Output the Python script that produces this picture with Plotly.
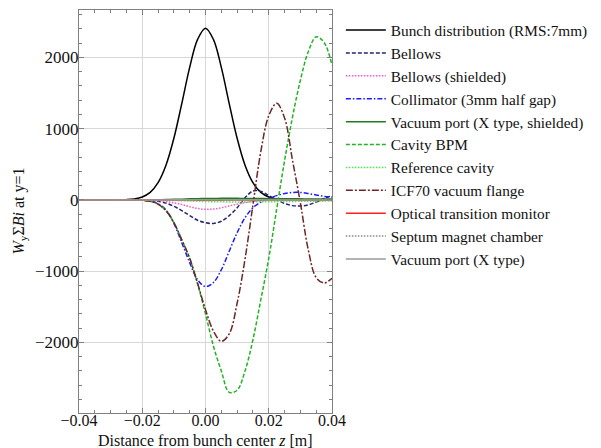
import plotly.graph_objects as go

z = [-0.04, -0.0375, -0.035, -0.0325, -0.03, -0.0275, -0.025, -0.0225, -0.02,
     -0.0175, -0.015, -0.0125, -0.01, -0.0075, -0.005, -0.0025, 0.0,
     0.0025, 0.005, 0.0075, 0.01, 0.0125, 0.015, 0.0175, 0.02,
     0.0225, 0.025, 0.0275, 0.03, 0.0325, 0.035, 0.0375, 0.04]

bunch = [0, 0, 0, 0, 0, 1, 4, 14, 41, 105, 242, 487, 865, 1352, 1860, 2252, 2410,
         2252, 1860, 1352, 865, 487, 242, 105, 41, 14, 4, 1, 0, 0, 0, 0, 0]
bellows = [0, 0, 0, 0, 0, 0, 0, 0, 0, -5, -20, -45, -90, -150, -220, -285, -320,
           -330, -300, -220, -110, 30, 125, 120, 60, 5, -50, -80, -85, -70, -30, 20, 60]
bellows_sh = [0, 0, 0, 0, 0, 0, 0, 0, 0, -3, -10, -22, -40, -65, -95, -120, -132,
              -128, -110, -85, -60, -38, -20, -8, 0, 5, 8, 8, 7, 5, 3, 2, 1]
collimator = [0, 0, 0, 0, 0, 0, 0, 0, 0, -15, -55, -140, -330, -600, -880, -1120, -1215,
              -1160, -980, -720, -460, -250, -110, -30, 20, 60, 90, 105, 105, 90, 70, 50, 40]
vport_sh = [0, 0, 0, 0, 0, 0, 0, 0, 0, 1, 3, 5, 8, 11, 15, 18, 20,
            21, 22, 22, 22, 21, 20, 19, 18, 17, 16, 15, 15, 14, 14, 14, 13]
cavity_bpm = [0, 0, 0, 0, 0, 0, 0, 0, -5, -20, -60, -150, -320, -560, -820, -1180, -1600,
              -2050, -2400, -2700, -2670, -2400, -1960, -1400, -820, -130, 550, 1160, 1680, 2080, 2290, 2210, 1890]
ref_cavity = [0, 0, 0, 0, 0, 0, 0, 0, 0, -1, -3, -5, -8, -11, -15, -19, -22,
              -25, -27, -28, -28, -28, -27, -26, -25, -24, -22, -21, -20, -19, -18, -17, -16]
icf70 = [0, 0, 0, 0, 0, 0, 0, 0, -5, -20, -60, -150, -320, -560, -820, -1170, -1540,
         -1840, -1985, -1880, -1450, -830, -70, 680, 1180, 1355, 1150, 560, -40, -700, -1090, -1165, -1100]
otr = [0, 0, 0, 0, 0, 0, 0, 0, 0, 0, 0, -1, -1, -2, -2, -3, -3,
       -3, -3, -2, -2, -1, -1, 0, 0, 0, 0, 0, 0, 0, 0, 0, 0]
septum = [0, 0, 0, 0, 0, 0, 0, 0, 0, 0, 0, 0, 0, 0, 0, 0, 0,
          0, 0, 0, 0, 0, 0, 0, 0, 0, 0, 0, 0, 0, 0, 0, 0]
vport = [0, 0, 0, 0, 0, 0, 0, 0, 0, 0, 0, 0, 1, 1, 2, 2, 2,
         2, 2, 2, 2, 1, 1, 1, 0, 0, 0, 0, 0, 0, 0, 0, 0]

names = ["Bunch distribution (RMS:7mm)", "Bellows", "Bellows (shielded)",
         "Collimator (3mm half gap)", "Vacuum port (X type, shielded)", "Cavity BPM",
         "Reference cavity", "ICF70 vacuum flange", "Optical transition monitor",
         "Septum magnet chamber", "Vacuum port (X type)"]
series = [bunch, bellows, bellows_sh, collimator, vport_sh, cavity_bpm,
          ref_cavity, icf70, otr, septum, vport]
colors = ["#000000", "#26266e", "#ff55cc", "#1a1aff", "#1e7a1e", "#22b422",
          "#44ee44", "#6e2626", "#ff2020", "#888888", "#9a9a9a"]
dashes = ["solid", "4px,2px", "1.5px,1.5px", "5px,2px,1.5px,2px", "solid", "4px,2px",
          "1.5px,1.5px", "7px,2px,2px,2px", "solid", "1.5px,1.5px", "solid"]

y_title = "<i>W</i><sub>y</sub>Σ<i>Bi</i> at y=1"
x_title = "Distance from bunch center <i>z</i> [m]"

fig = go.Figure()
for n, s, c, d in zip(names, series, colors, dashes):
    fig.add_trace(go.Scatter(x=z, y=s, name=n, mode="lines",
                             line=dict(color=c, width=1.5, dash=d, shape="spline", smoothing=1.0)))

serif = "Liberation Serif, Times New Roman, serif"
# page body adds an 8px offset; figure is sized to fit the 601x448 window
fig.update_layout(
    width=593, height=440,
    margin=dict(l=71, r=269, t=2, b=35, autoexpand=False),
    paper_bgcolor="white", plot_bgcolor="white",
    font=dict(family=serif, color="#111", size=16),
    showlegend=True,
    legend=dict(x=1.035, y=0.991, xanchor="left", yanchor="top",
                font=dict(family=serif, size=15.3, color="#111"),
                bgcolor="rgba(0,0,0,0)", itemwidth=40),
    annotations=[
        dict(text=y_title, xref="paper", yref="paper", x=-0.237, y=0.5,
             xanchor="center", yanchor="middle", textangle=-90, showarrow=False,
             font=dict(family=serif, size=16, color="#111")),
        dict(text=x_title, xref="paper", yref="paper", x=0.5, y=-0.068,
             xanchor="center", yanchor="middle", showarrow=False,
             font=dict(family=serif, size=16, color="#111")),
    ],
)
fig.update_xaxes(range=[-0.04, 0.04], dtick=0.02, tick0=-0.04, tickformat=".2f",
                 automargin=False,
                 showgrid=True, gridcolor="#d8d8d8", gridwidth=1.2, zeroline=False,
                 showline=True, linecolor="#808080", linewidth=1, mirror="allticks",
                 ticks="inside", ticklen=5, tickcolor="#808080", ticklabelstandoff=-7,
                 minor=dict(dtick=0.005, ticks="inside", ticklen=3, tickcolor="#808080", showgrid=False),
                 tickfont=dict(family=serif, size=16, color="#111"))
fig.update_yaxes(range=[-2990, 2665], dtick=1000, tick0=0,
                 automargin=False,
                 showgrid=True, gridcolor="#d8d8d8", gridwidth=1.2, zeroline=False,
                 showline=True, linecolor="#808080", linewidth=1, mirror="allticks",
                 ticks="inside", ticklen=5, tickcolor="#808080", ticklabelstandoff=-4,
                 minor=dict(dtick=200, ticks="inside", ticklen=3, tickcolor="#808080", showgrid=False),
                 tickfont=dict(family=serif, size=17, color="#111"))

fig.write_html("out.html")
